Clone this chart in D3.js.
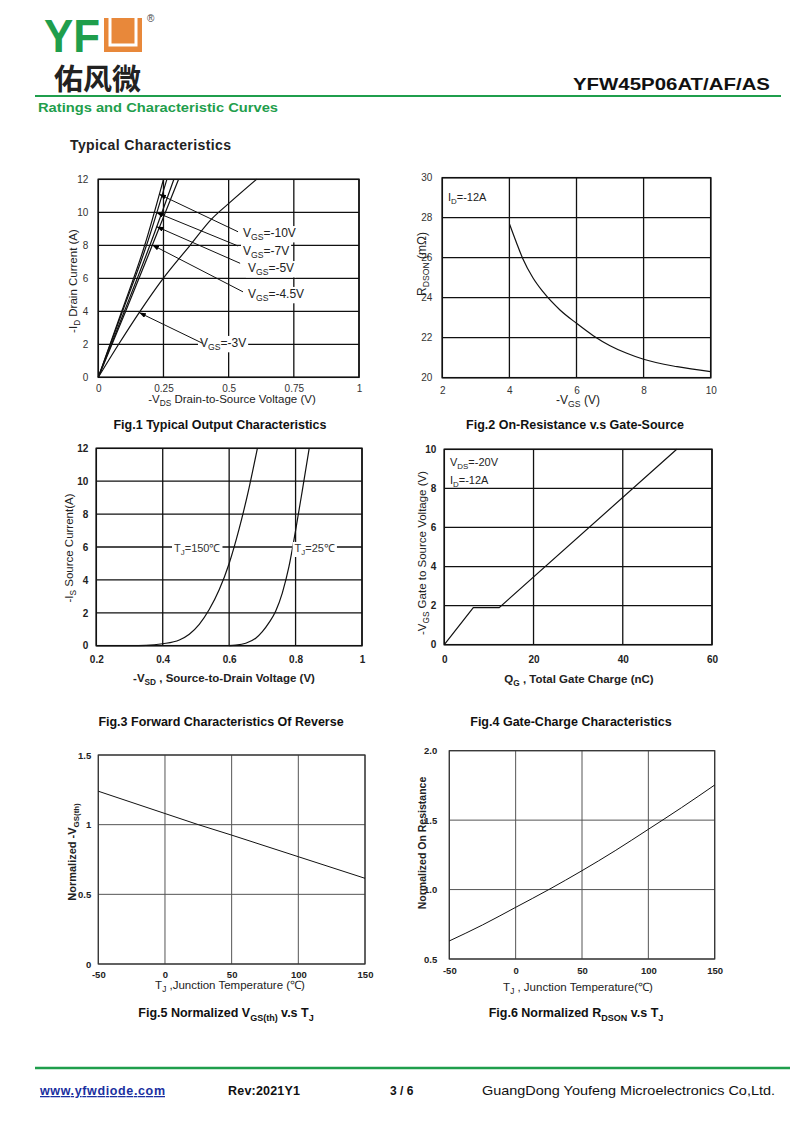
<!DOCTYPE html>
<html><head><meta charset="utf-8">
<script src="https://cdn.jsdelivr.net/npm/d3@7"></script>
<style>body{margin:0;background:#fff} svg{display:block}</style>
</head><body><svg id="c" width="800" height="1130"></svg>
<script>
// ---------------- DATA ----------------
// Fig.1 Typical Output Characteristics  [-VDS (V), -ID (A)]
const fig1XTicks = [0, 0.25, 0.5, 0.75, 1];
const fig1YTicks = [0, 2, 4, 6, 8, 10, 12];
const fig1Vgs10  = [[0,0],[0.09,4],[0.178,8],[0.25,12]];
const fig1Vgs7   = [[0,0],[0.093,4],[0.185,8],[0.263,12]];
const fig1Vgs5   = [[0,0],[0.1,4],[0.198,8],[0.29,12]];
const fig1Vgs45  = [[0,0],[0.105,4],[0.207,8],[0.308,12]];
const fig1Vgs3   = [[0,0],[0.078,2],[0.16,4],[0.249,6],[0.352,8],[0.435,9.6],[0.505,10.6],[0.607,12]];
const fig1Labels = ["=-10V", "=-7V", "=-5V", "=-4.5V", "=-3V"];
const fig1Tips   = [[0.234,11.09],[0.224,9.98],[0.224,9.13],[0.207,8.02],[0.157,3.92]];
const fig1Tails  = [[0.536,8.82],[0.536,7.96],[0.544,6.91],[0.555,5.18],[0.40,2.06]];
const fig1LabelAt= [[0.555,8.50],[0.555,7.41],[0.574,6.38],[0.574,4.81],[0.39,1.84]];

// Fig.2 On-Resistance vs Gate-Source  [-VGS (V), RDSON (mΩ)]
const fig2XTicks = [2, 4, 6, 8, 10];
const fig2YTicks = [20, 22, 24, 26, 28, 30];
const fig2Curve  = [[4,27.7],[4.2,26.8],[4.4,25.95],[4.7,25.0],[5,24.3],[5.5,23.4],[6,22.72],[6.5,22.1],[7,21.6],[7.5,21.22],[8,20.92],[9,20.55],[10,20.3]];

// Fig.3 Forward Characteristics of Reverse  [-VSD (V), -IS (A)]
const fig3XTicks = [0.2, 0.4, 0.6, 0.8, 1];
const fig3YTicks = [0, 2, 4, 6, 8, 10, 12];
const fig3T150   = [[0.2,0],[0.3,0.005],[0.35,0.02],[0.40,0.12],[0.45,0.35],[0.48,0.7],[0.51,1.3],[0.54,2.2],[0.57,3.4],[0.6,5.0],[0.63,7.1],[0.66,9.6],[0.685,12]];
const fig3T25    = [[0.6,0],[0.62,0.03],[0.65,0.15],[0.68,0.45],[0.70,0.85],[0.72,1.4],[0.74,2.1],[0.76,3.2],[0.78,4.8],[0.80,7.0],[0.82,9.4],[0.841,12]];
const fig3LabelAt= [[0.434,5.7],[0.797,5.7]];

// Fig.4 Gate-Charge Characteristics  [QG (nC), -VGS (V)]
const fig4XTicks = [0, 20, 40, 60];
const fig4YTicks = [0, 2, 4, 6, 8, 10];
const fig4Curve  = [[0,0],[6.5,1.9],[12.3,1.9],[52.1,10]];

// Fig.5 Normalized VGS(th) vs TJ
const fig5XTicks = [-50, 0, 50, 100, 150];
const fig5YTicks = [0, 0.5, 1, 1.5];
const fig5Curve  = [[-50,1.24],[0,1.08],[25,1.0],[50,0.925],[100,0.77],[150,0.615]];

// Fig.6 Normalized RDSON vs TJ
const fig6XTicks = [-50, 0, 50, 100, 150];
const fig6YTicks = [0.5, 1.0, 1.5, 2.0];
const fig6Curve  = [[-50,0.63],[-25,0.745],[0,0.872],[25,1.0],[50,1.136],[75,1.28],[100,1.434],[125,1.59],[150,1.753]];

// ---------------- DRAWING ----------------
const svg = d3.select('#c');
const FONT = "'Liberation Sans', Arial, Helvetica, sans-serif";
const GREEN = '#1f9e4c';

svg.append('defs').append('marker').attr('id','arr')
  .attr('viewBox','0 0 8 6').attr('refX',8).attr('refY',3)
  .attr('markerWidth',7).attr('markerHeight',5).attr('markerUnits','userSpaceOnUse')
  .attr('orient','auto')
  .append('path').attr('d','M0,0L8,3L0,6Z').attr('fill','#000');

function rich(g, x, y, parts, o = {}) {
  const size = o.size || 11;
  const t = g.append('text').attr('x', x).attr('y', y)
    .attr('font-family', o.font || FONT).attr('font-size', size)
    .attr('font-weight', o.bold ? 'bold' : 'normal').attr('fill', o.fill || '#222')
    .attr('text-anchor', o.anchor || 'start');
  if (o.rotate) t.attr('transform', `rotate(-90,${x},${y})`);
  let shifted = 0;
  parts.forEach(p => {
    if (typeof p === 'string') {
      const s = t.append('tspan').text(p);
      if (shifted) { s.attr('dy', -shifted); shifted = 0; }
    } else {
      const s = t.append('tspan').text(p.sub).attr('font-size', size * (p.scale || 0.72));
      const d = size * 0.28;
      if (d - shifted) s.attr('dy', d - shifted);
      shifted = d;
    }
  });
  if (o.bg) {
    const b = t.node().getBBox();
    g.insert('rect', () => t.node()).attr('x', b.x - 2).attr('y', b.y).attr('width', b.width + 4)
      .attr('height', b.height).attr('fill', '#fff');
  }
  return t;
}

function panel(o) {
  const g = svg.append('g');
  const x = d3.scaleLinear().domain(o.xd).range([o.l, o.r]);
  const y = d3.scaleLinear().domain(o.yd).range([o.b, o.t]);
  g.append('g').selectAll('line').data(o.xt).join('line')
    .attr('x1', d => x(d)).attr('x2', d => x(d)).attr('y1', o.t).attr('y2', o.b)
    .attr('stroke', o.grid).attr('stroke-width', o.gw);
  g.append('g').selectAll('line').data(o.yt).join('line')
    .attr('y1', d => y(d)).attr('y2', d => y(d)).attr('x1', o.l).attr('x2', o.r)
    .attr('stroke', o.grid).attr('stroke-width', o.gw);
  g.append('rect').attr('x', o.l).attr('y', o.t).attr('width', o.r - o.l).attr('height', o.b - o.t)
    .attr('fill', 'none').attr('stroke', o.frame || '#111').attr('stroke-width', o.fw || 1.5);
  const ax = g.append('g').attr('transform', `translate(0,${o.b})`)
    .call(d3.axisBottom(x).tickValues(o.xt).tickSize(0).tickPadding(o.xp).tickFormat(o.xf || (d => String(d))));
  const ay = g.append('g').attr('transform', `translate(${o.l},0)`)
    .call(d3.axisLeft(y).tickValues(o.yt).tickSize(0).tickPadding(o.yp).tickFormat(o.yf || (d => String(d))));
  [ax, ay].forEach(a => {
    a.select('.domain').remove();
    a.selectAll('text').attr('font-family', FONT).attr('font-size', o.fs)
      .attr('font-weight', o.tb ? 'bold' : 'normal').attr('fill', o.tc || '#333');
  });
  const line = (data, curve) => g.append('path').datum(data)
    .attr('d', d3.line().x(d => x(d[0])).y(d => y(d[1])).curve(curve || d3.curveLinear))
    .attr('fill', 'none').attr('stroke', '#111').attr('stroke-width', o.lw || 1.2);
  return { g, x, y, line };
}

// ---------- Header ----------
const hd = svg.append('g');
hd.append('text').attr('x', 44).attr('y', 52).attr('font-family', FONT).attr('font-weight', 'bold')
  .attr('font-size', 46).attr('fill', GREEN).attr('textLength', 56).attr('lengthAdjust', 'spacingAndGlyphs').text('YF');
hd.append('rect').attr('x', 104).attr('y', 18).attr('width', 38).attr('height', 34).attr('fill', '#e8883a');
hd.append('path').attr('d', 'M110,18 V45 H136 V18').attr('fill', 'none').attr('stroke', '#fff').attr('stroke-width', 3);
hd.append('text').attr('x', 147).attr('y', 22).attr('font-family', FONT).attr('font-size', 10).attr('fill', '#444').text('®');
hd.append('text').attr('x', 54).attr('y', 90).attr('font-family', "'Noto Sans CJK SC'").attr('font-weight', 'bold')
  .attr('font-size', 29).attr('fill', '#222').attr('textLength', 87).text('佑风微');
hd.append('text').attr('x', 770).attr('y', 90).attr('text-anchor', 'end').attr('font-family', FONT)
  .attr('font-weight', 'bold').attr('font-size', 17).attr('fill', '#111').attr('textLength', 197)
  .attr('lengthAdjust', 'spacingAndGlyphs').text('YFW45P06AT/AF/AS');
hd.append('line').attr('x1', 35).attr('x2', 781).attr('y1', 96).attr('y2', 96).attr('stroke', GREEN).attr('stroke-width', 2);
hd.append('text').attr('x', 38).attr('y', 112).attr('font-family', FONT).attr('font-weight', 'bold')
  .attr('font-size', 13).attr('fill', GREEN).attr('textLength', 240).attr('lengthAdjust', 'spacingAndGlyphs')
  .text('Ratings and Characteristic Curves');
hd.append('text').attr('x', 70).attr('y', 150).attr('font-family', FONT).attr('font-weight', 'bold')
  .attr('font-size', 14).attr('fill', '#222').attr('textLength', 161).text('Typical Characteristics');

// ---------- Fig.1 ----------
{
  const p = panel({ l: 98.3, r: 359, t: 179.3, b: 377.3, xd: [0, 1], yd: [0, 12], xt: fig1XTicks, yt: fig1YTicks,
    grid: '#111', gw: 1.3, xp: 8, yp: 10, fs: 10, tc: '#333' });
  [fig1Vgs10, fig1Vgs7, fig1Vgs5, fig1Vgs45].forEach(d => p.line(d, d3.curveMonotoneX));
  p.line(fig1Vgs3, d3.curveMonotoneX);
  fig1Labels.forEach((lab, i) => {
    rich(p.g, p.x(fig1LabelAt[i][0]), p.y(fig1LabelAt[i][1]), ['V', { sub: 'GS' }, lab], { size: 12, fill: '#222', bg: true });
    p.g.append('line').attr('x1', p.x(fig1Tails[i][0])).attr('y1', p.y(fig1Tails[i][1]))
      .attr('x2', p.x(fig1Tips[i][0])).attr('y2', p.y(fig1Tips[i][1]))
      .attr('stroke', '#111').attr('stroke-width', 1).attr('marker-end', 'url(#arr)');
  });
  rich(p.g, 232, 403, ['-V', { sub: 'DS' }, ' Drain-to-Source Voltage (V)'], { size: 11.5, anchor: 'middle' });
  rich(p.g, 77, 281, ['-I', { sub: 'D' }, ' Drain Current (A)'], { size: 11.5, anchor: 'middle', rotate: true });
  rich(p.g, 220, 429, ['Fig.1 Typical Output Characteristics'], { size: 12.5, bold: true, anchor: 'middle', fill: '#111' });
}

// ---------- Fig.2 ----------
{
  const p = panel({ l: 442.3, r: 710.7, t: 177.7, b: 377.7, xd: [2, 10], yd: [20, 30], xt: fig2XTicks, yt: fig2YTicks,
    grid: '#111', gw: 1.3, xp: 9, yp: 10, fs: 10, tc: '#333' });
  p.line(fig2Curve, d3.curveMonotoneX);
  rich(p.g, p.x(2.17), p.y(28.83), ['I', { sub: 'D' }, '=-12A'], { size: 11 });
  rich(p.g, 578, 404, ['-V', { sub: 'GS' }, ' (V)'], { size: 12, anchor: 'middle' });
  rich(p.g, 426, 264, ['R', { sub: 'DSON' }, ' (mΩ)'], { size: 12, anchor: 'middle', rotate: true });
  rich(p.g, 575, 429, ['Fig.2 On-Resistance v.s Gate-Source'], { size: 12.5, bold: true, anchor: 'middle', fill: '#111' });
}

// ---------- Fig.3 ----------
{
  const p = panel({ l: 96.3, r: 362, t: 448.3, b: 645.7, xd: [0.2, 1], yd: [0, 12], xt: fig3XTicks, yt: fig3YTicks,
    grid: '#111', gw: 1.3, xp: 10, yp: 8, fs: 10, tb: true, tc: '#222' });
  p.line(fig3T150, d3.curveMonotoneX);
  p.line(fig3T25, d3.curveMonotoneX);
  rich(p.g, p.x(fig3LabelAt[0][0]), p.y(fig3LabelAt[0][1]), ['T', { sub: 'J' }, '=150℃'], { size: 11, bg: true, fill: '#333' });
  rich(p.g, p.x(fig3LabelAt[1][0]), p.y(fig3LabelAt[1][1]), ['T', { sub: 'J' }, '=25℃'], { size: 11, bg: true, fill: '#333' });
  rich(p.g, 224, 682, ['-V', { sub: 'SD' }, ' , Source-to-Drain Voltage (V)'], { size: 11.5, anchor: 'middle', bold: true, fill: '#222' });
  rich(p.g, 73, 548, ['-I', { sub: 'S' }, ' Source Current(A)'], { size: 11.5, anchor: 'middle', rotate: true });
  rich(p.g, 221, 726, ['Fig.3 Forward Characteristics Of Reverse'], { size: 12.5, bold: true, anchor: 'middle', fill: '#111' });
}

// ---------- Fig.4 ----------
{
  const p = panel({ l: 444.3, r: 712, t: 449.3, b: 644.7, xd: [0, 60], yd: [0, 10], xt: fig4XTicks, yt: fig4YTicks,
    grid: '#111', gw: 1.3, xp: 11, yp: 8, fs: 10, tb: true, tc: '#222' });
  p.line(fig4Curve);
  rich(p.g, p.x(1.28), p.y(9.15), ['V', { sub: 'DS' }, '=-20V'], { size: 11 });
  rich(p.g, p.x(1.28), p.y(8.22), ['I', { sub: 'D' }, '=-12A'], { size: 11 });
  rich(p.g, 579, 683, ['Q', { sub: 'G' }, ' , Total Gate Charge (nC)'], { size: 11.5, anchor: 'middle', bold: true, fill: '#222' });
  rich(p.g, 426, 553, ['-V', { sub: 'GS' }, '  Gate to Source Voltage (V)'], { size: 11.5, anchor: 'middle', rotate: true });
  rich(p.g, 571, 726, ['Fig.4 Gate-Charge Characteristics'], { size: 12.5, bold: true, anchor: 'middle', fill: '#111' });
}

// ---------- Fig.5 ----------
{
  const p = panel({ l: 98.3, r: 365, t: 755, b: 964, xd: [-50, 150], yd: [0, 1.5], xt: fig5XTicks, yt: fig5YTicks,
    grid: '#555', gw: 1, frame: '#333', fw: 1.2, xp: 7, yp: 7, fs: 9.5, tb: true, tc: '#222', lw: 1 });
  p.line(fig5Curve);
  rich(p.g, 230, 989, ['T', { sub: 'J' }, ' ,Junction Temperature (℃)'], { size: 11.5, anchor: 'middle', fill: '#222' });
  rich(p.g, 76, 852, ['Normalized  -V', { sub: 'GS(th)' }], { size: 11, anchor: 'middle', rotate: true, bold: true, fill: '#222' });
  rich(p.g, 226, 1017, ['Fig.5 Normalized V', { sub: 'GS(th)' }, ' v.s T', { sub: 'J' }], { size: 12.5, bold: true, anchor: 'middle', fill: '#111' });
}

// ---------- Fig.6 ----------
{
  const p = panel({ l: 449.3, r: 714.7, t: 750.7, b: 959, xd: [-50, 150], yd: [0.5, 2.0], xt: fig6XTicks, yt: fig6YTicks,
    grid: '#555', gw: 1, frame: '#333', fw: 1.2, xp: 8, yp: 12, fs: 9.5, tb: true, tc: '#222', lw: 1,
    yf: d3.format('.1f') });
  p.line(fig6Curve, d3.curveMonotoneX);
  rich(p.g, 578, 991, ['T', { sub: 'J' }, ' , Junction Temperature(℃)'], { size: 11.5, anchor: 'middle', fill: '#222' });
  rich(p.g, 426, 843, ['Normalized On Resistance'], { size: 10.5, anchor: 'middle', rotate: true, bold: true, fill: '#222' });
  rich(p.g, 576, 1017, ['Fig.6 Normalized R', { sub: 'DSON' }, ' v.s T', { sub: 'J' }], { size: 12.5, bold: true, anchor: 'middle', fill: '#111' });
}

// ---------- Footer ----------
const ft = svg.append('g');
ft.append('line').attr('x1', 35).attr('x2', 790).attr('y1', 1068).attr('y2', 1068).attr('stroke', GREEN).attr('stroke-width', 2.5);
ft.append('text').attr('x', 40).attr('y', 1095).attr('font-family', FONT).attr('font-weight', 'bold').attr('font-size', 12.5)
  .attr('fill', '#1a2fa0').attr('text-decoration', 'underline').attr('textLength', 125).text('www.yfwdiode.com');
ft.append('text').attr('x', 228).attr('y', 1095).attr('font-family', FONT).attr('font-weight', 'bold').attr('font-size', 12.5)
  .attr('fill', '#111').attr('textLength', 72).text('Rev:2021Y1');
ft.append('text').attr('x', 390).attr('y', 1095).attr('font-family', FONT).attr('font-weight', 'bold').attr('font-size', 12)
  .attr('fill', '#111').text('3 / 6');
ft.append('text').attr('x', 482).attr('y', 1095).attr('font-family', FONT).attr('font-size', 13.5)
  .attr('fill', '#111').attr('textLength', 293).attr('lengthAdjust', 'spacingAndGlyphs').text('GuangDong Youfeng Microelectronics Co,Ltd.');
</script>
</body></html>
